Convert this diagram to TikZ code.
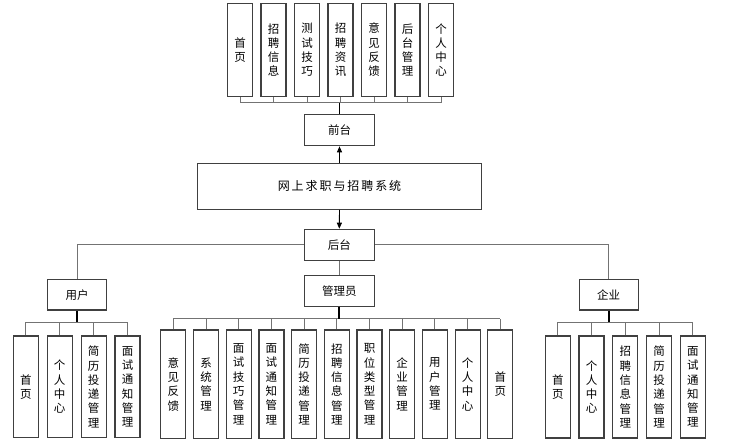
\documentclass[tikz,border=0pt]{standalone}
\usepackage{fontspec}
\setmainfont{Noto Sans CJK SC}
\newfontfamily\spacedfont[LetterSpace=16]{Noto Sans CJK SC}
\usetikzlibrary{positioning,arrows.meta}

\tikzset{
    box/.style={draw=black!75, line width=1.2pt, fill=white, inner sep=0pt, font=\fontsize{11.5}{14.3}\selectfont},
    vbox/.style={box, minimum width=25, align=center},
    link/.style={draw=black!55, line width=1pt},
    stem/.style={draw=black, line width=1.7pt},
    flow/.style={draw=black, line width=0.9pt, -{Triangle[length=6pt,width=5pt]}}
}

\begin{document}
\begin{tikzpicture}[x=1pt,y=-1pt]
        \useasboundingbox[fill=white] (0,0) rectangle (755,446);

        \node[box, minimum width=284, minimum height=46, font=\fontsize{12}{14}\spacedfont] (System) at (339.5,186.2) {网上求职与招聘系统};
        \node[box, minimum width=70, minimum height=31.5] (FrontEnd) at (339.5,130) {前台};
        \node[box, minimum width=70, minimum height=31] (BackEnd) at (339.3,244.8) {后台};
        \node[box, minimum width=70, minimum height=30.5] (Admin) at (339.3,291) {管理员};
        \node[box, minimum width=59, minimum height=30.5] (User) at (77.2,294.7) {用户};
        \node[box, minimum width=59, minimum height=30.5] (Company) at (608.7,294.7) {企业};

        \foreach \txt [count=\i] in {{首\\页},{招\\聘\\信\\息},{测\\试\\技\\巧},{招\\聘\\资\\讯},{意\\见\\反\\馈},{后\\台\\管\\理},{个\\人\\中\\心}}
            \node[vbox, minimum height=93.4] (Front\i) at ({240+33.5*(\i-1)},50) {\txt};

        \foreach \txt [count=\i] in {{首\\页},{个\\人\\中\\心},{简\\历\\投\\递\\管\\理},{面\\试\\通\\知\\管\\理}}
            \node[vbox, minimum height=101.7] (UserItem\i) at ({25.8+33.9*(\i-1)},386.9) {\txt};

        \foreach \txt [count=\i] in {{意\\见\\反\\馈},{系\\统\\管\\理},{面\\试\\技\\巧\\管\\理},{面\\试\\通\\知\\管\\理},{简\\历\\投\\递\\管\\理},{招\\聘\\信\\息\\管\\理},{职\\位\\类\\型\\管\\理},{企\\业\\管\\理},{用\\户\\管\\理},{个\\人\\中\\心},{首\\页}}
            \node[vbox, minimum height=108.3] (AdminItem\i) at ({173.3+32.7*(\i-1)},384.2) {\txt};

        \foreach \txt [count=\i] in {{首\\页},{个\\人\\中\\心},{招\\聘\\信\\息\\管\\理},{简\\历\\投\\递\\管\\理},{面\\试\\通\\知\\管\\理}}
            \node[vbox, minimum height=102] (CompanyItem\i) at ({557.8+33.75*(\i-1)},387) {\txt};

        \coordinate (FrontBus) at (339.5,102.7);
        \coordinate (BackBus) at (339.3,245);
        \coordinate (UserBus) at (77.2,322.3);
        \coordinate (AdminBus) at (339.3,319);
        \coordinate (CompanyBus) at (608.7,322.3);

        \draw[flow] (System.north) -- (FrontEnd.south);
        \draw[flow] (System.south) -- (BackEnd.north);

        \foreach \i in {1,...,7}
            \draw[link] (Front\i.south) -- (Front\i.south |- FrontBus);
        \draw[link] (Front1.south |- FrontBus) -- (Front7.south |- FrontBus);
        \draw[stem] (FrontBus) -- (FrontEnd.north);

        \draw[link] (BackEnd.west) -- (BackEnd.west -| User.north) -- (User.north);
        \draw[link] (BackEnd.east) -- (BackEnd.east -| Company.north) -- (Company.north);
        \draw[link] (BackEnd.south) -- (Admin.north);

        \foreach \i in {1,...,4}
            \draw[link] (UserItem\i.north) -- (UserItem\i.north |- UserBus);
        \draw[link] (UserItem1.north |- UserBus) -- (UserItem4.north |- UserBus);
        \draw[stem] (User.south) -- (UserBus);

        \foreach \i in {1,...,11}
            \draw[link] (AdminItem\i.north) -- (AdminItem\i.north |- AdminBus);
        \draw[link] (AdminItem1.north |- AdminBus) -- (AdminItem11.north |- AdminBus);
        \draw[stem] (Admin.south) -- (AdminBus);

        \foreach \i in {1,...,5}
            \draw[link] (CompanyItem\i.north) -- (CompanyItem\i.north |- CompanyBus);
        \draw[link] (CompanyItem1.north |- CompanyBus) -- (CompanyItem5.north |- CompanyBus);
        \draw[stem] (Company.south) -- (CompanyBus);
    \end{tikzpicture}
\end{document}
